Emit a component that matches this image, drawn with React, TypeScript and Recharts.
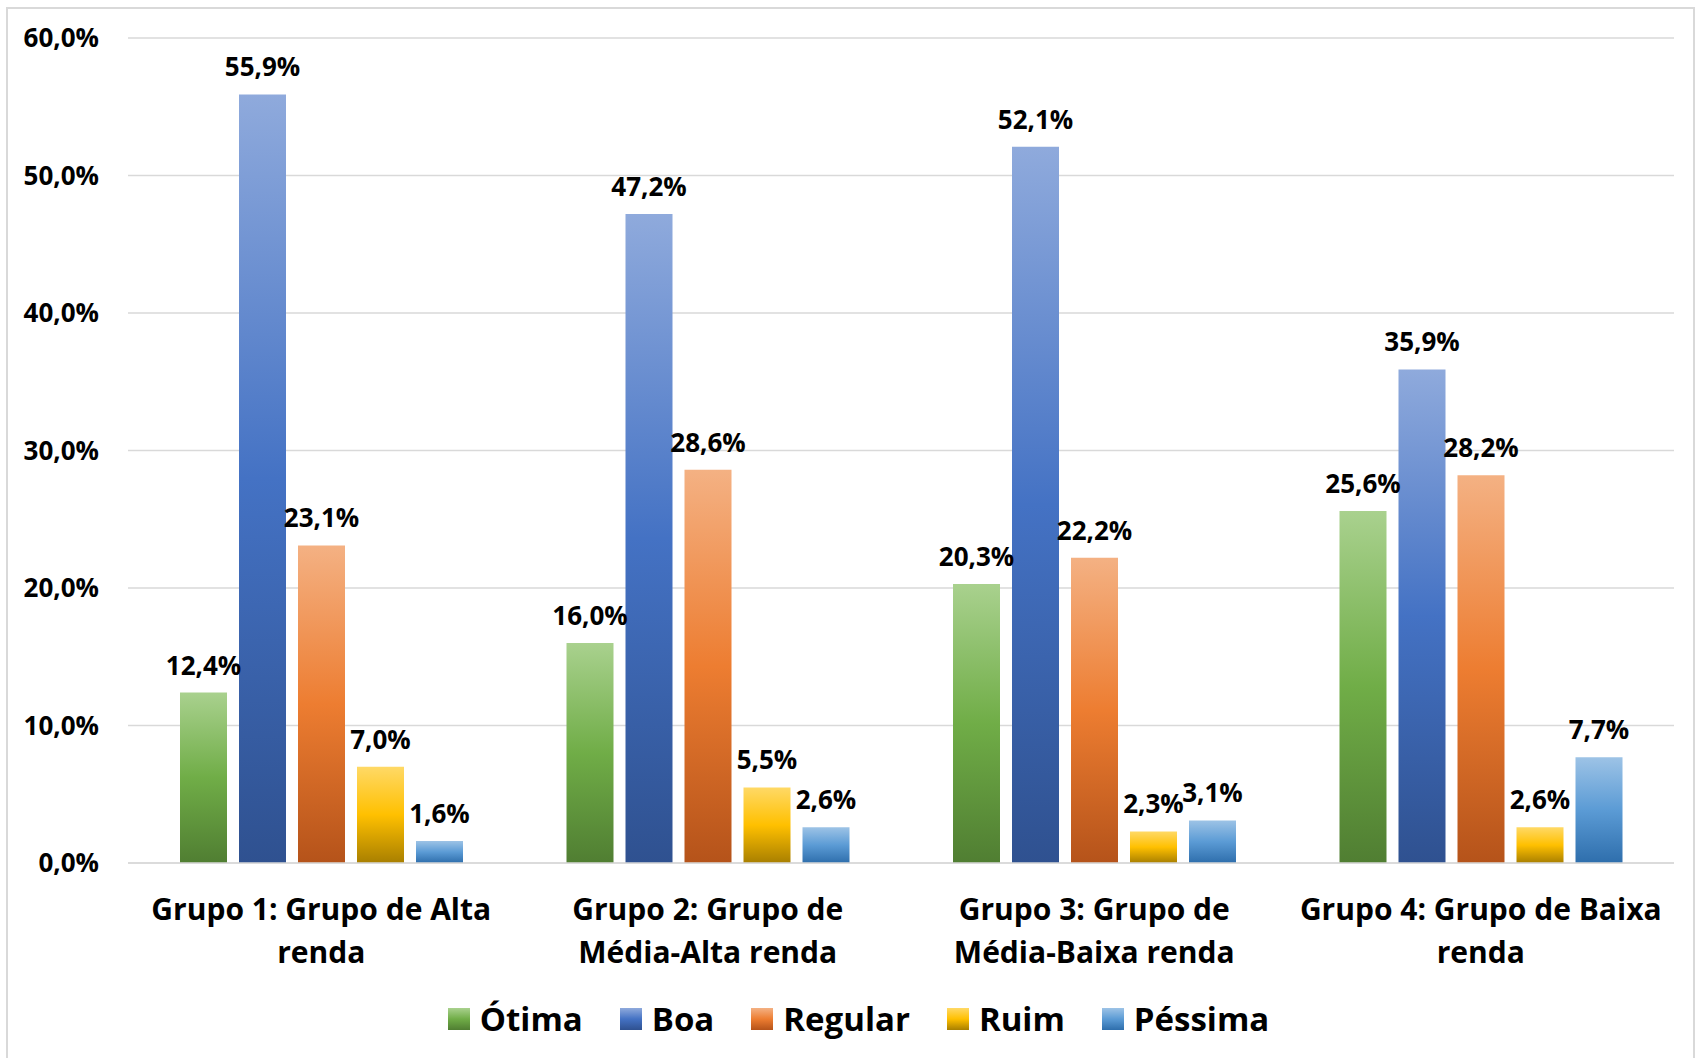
import React from "react";
import { BarChart, Bar, XAxis, YAxis, CartesianGrid, LabelList } from "recharts";

const categories = [
  "Grupo 1: Grupo de Alta renda",
  "Grupo 2: Grupo de Média-Alta renda",
  "Grupo 3: Grupo de Média-Baixa renda",
  "Grupo 4: Grupo de Baixa renda",
];
const categoryLines = [
  ["Grupo 1: Grupo de Alta", "renda"],
  ["Grupo 2: Grupo de", "Média-Alta renda"],
  ["Grupo 3: Grupo de", "Média-Baixa renda"],
  ["Grupo 4: Grupo de Baixa", "renda"],
];
const otima = [12.4, 16.0, 20.3, 25.6];
const boa = [55.9, 47.2, 52.1, 35.9];
const regular = [23.1, 28.6, 22.2, 28.2];
const ruim = [7.0, 5.5, 2.3, 2.6];
const pessima = [1.6, 2.6, 3.1, 7.7];
const yTicks = [0, 10, 20, 30, 40, 50, 60];

const seriesKeys = ["otima", "boa", "regular", "ruim", "pessima"];
const seriesNames = ["Ótima", "Boa", "Regular", "Ruim", "Péssima"];
const seriesGradients = [
  ["#a9d18e", "#70ad47", "#507e32"],
  ["#8faadc", "#4472c4", "#2f5190"],
  ["#f4b183", "#ed7d31", "#b5531a"],
  ["#ffd966", "#ffc000", "#a87f00"],
  ["#9dc3e6", "#5b9bd5", "#2e6eac"],
];

const data = categories.map((c, i) => ({
  name: c,
  otima: otima[i],
  boa: boa[i],
  regular: regular[i],
  ruim: ruim[i],
  pessima: pessima[i],
}));

const FONT = "'Open Sans', 'Noto Sans', sans-serif";
const fmt = (v: number) => v.toFixed(1).replace(".", ",") + "%";

const CategoryTick = (props: any) => {
  const { x, y, payload } = props;
  const idx = categories.indexOf(payload.value);
  const lines = categoryLines[idx] || [payload.value];
  return (
    <text
      x={x}
      y={y}
      textAnchor="middle"
      fontFamily={FONT}
      fontWeight={700}
      fontSize={30}
      fill="#000"
    >
      {lines.map((l, i) => (
        <tspan key={i} x={x} dy={i === 0 ? 49 : 43}>
          {l}
        </tspan>
      ))}
    </text>
  );
};

export default function App() {
  return (
    <div
      style={{
        position: "absolute",
        left: 0,
        top: 0,
        width: 1698,
        height: 1058,
        background: "#fff",
        overflow: "hidden",
      }}
    >
      <div
        style={{
          position: "absolute",
          left: 6,
          top: 7,
          width: 1689,
          height: 1060,
          border: "2px solid #d9d9d9",
          boxSizing: "border-box",
        }}
      />
      <div style={{ position: "absolute", left: 0, top: 0 }}>
        <BarChart
          width={1698}
          height={1058}
          data={data}
          margin={{ top: 38, right: 24, bottom: 75, left: 0 }}
          barGap={12}
          barCategoryGap={52}
        >
          <defs>
            {seriesGradients.map((g, i) => (
              <linearGradient key={i} id={`grad${i}`} x1="0" y1="0" x2="0" y2="1">
                <stop offset="0%" stopColor={g[0]} />
                <stop offset="50%" stopColor={g[1]} />
                <stop offset="100%" stopColor={g[2]} />
              </linearGradient>
            ))}
          </defs>
          <CartesianGrid vertical={false} stroke="#d9d9d9" strokeWidth={1.5} />
          <XAxis
            dataKey="name"
            axisLine={{ stroke: "#d9d9d9", strokeWidth: 1.5 }}
            tickLine={false}
            tick={<CategoryTick />}
            interval={0}
            height={120}
          />
          <YAxis
            domain={[0, 60]}
            ticks={yTicks}
            tickFormatter={fmt}
            axisLine={false}
            tickLine={false}
            tickSize={0}
            tickMargin={29}
            width={128}
            tick={{ fontFamily: FONT, fontWeight: 700, fontSize: 26, fill: "#000" }}
          />
          {seriesKeys.map((k, i) => (
            <Bar
              key={k}
              dataKey={k}
              name={seriesNames[i]}
              fill={`url(#grad${i})`}
              barSize={47}
              isAnimationActive={false}
            >
              <LabelList
                dataKey={k}
                position="top"
                offset={18}
                formatter={(v: any) => fmt(Number(v))}
                style={{ fontFamily: FONT, fontWeight: 700, fontSize: 26, fill: "#000" }}
              />
            </Bar>
          ))}
        </BarChart>
      </div>
      <div
        style={{
          position: "absolute",
          left: 14,
          top: 996,
          width: 1689,
          display: "flex",
          justifyContent: "center",
          alignItems: "center",
          fontFamily: FONT,
          fontWeight: 700,
          fontSize: 33,
          color: "#000",
          gap: 37,
        }}
      >
        {seriesNames.map((n, i) => (
          <div key={n} style={{ display: "flex", alignItems: "center" }}>
            <div
              style={{
                width: 22,
                height: 22,
                marginRight: 10,
                background: `linear-gradient(${seriesGradients[i][0]}, ${seriesGradients[i][1]}, ${seriesGradients[i][2]})`,
              }}
            />
            <span>{n}</span>
          </div>
        ))}
      </div>
    </div>
  );
}
